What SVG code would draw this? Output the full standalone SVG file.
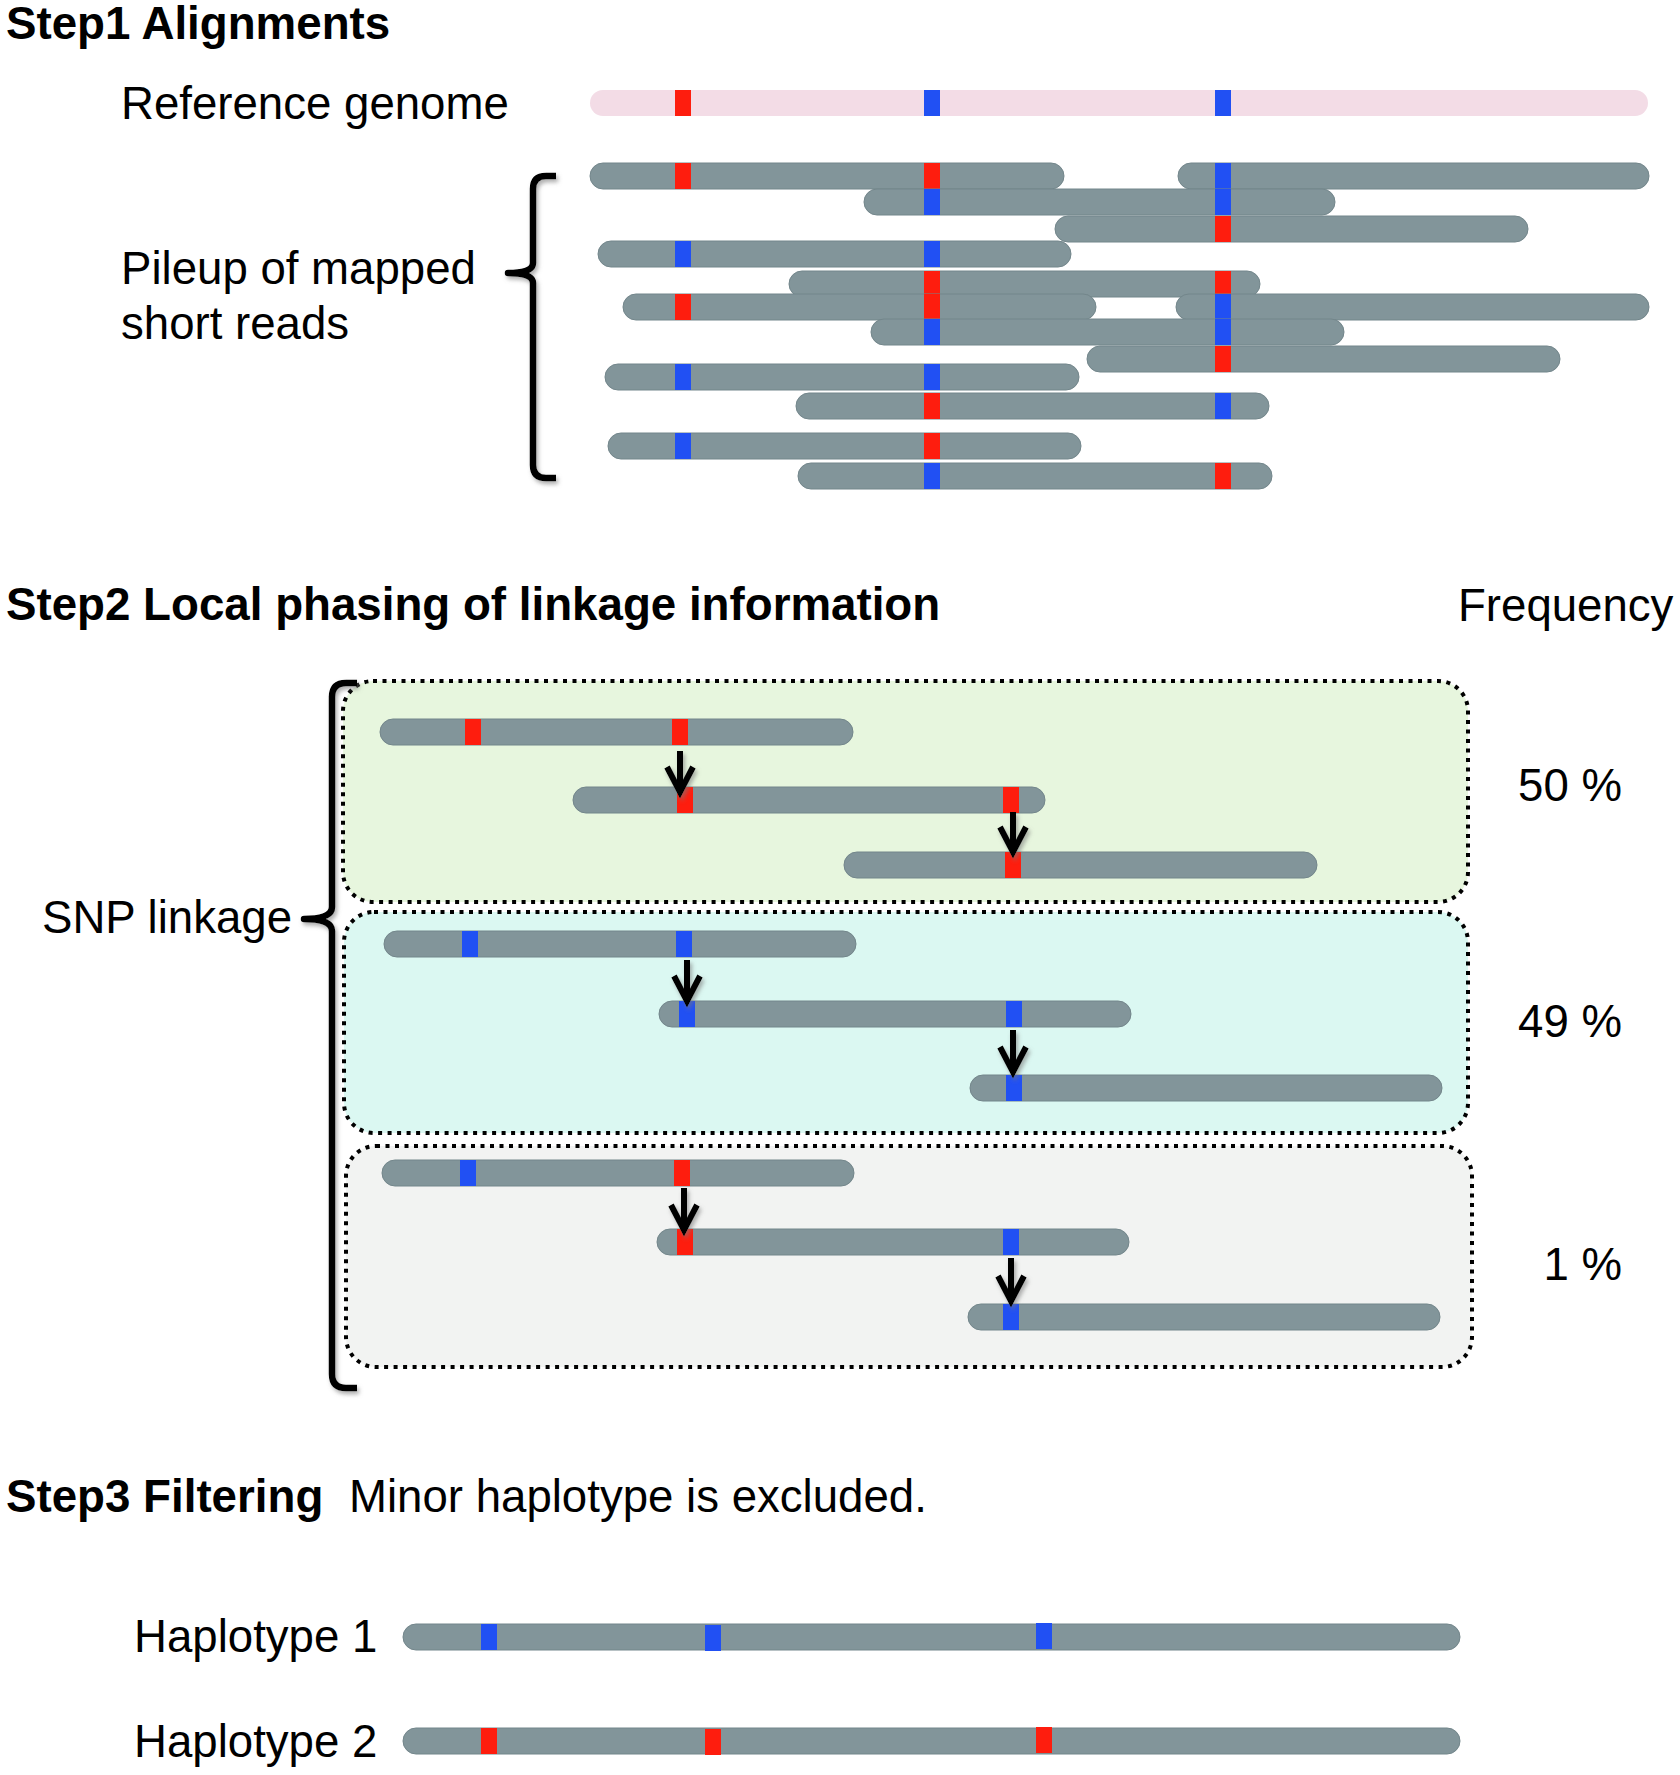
<svg xmlns="http://www.w3.org/2000/svg" width="1680" height="1775" viewBox="0 0 1680 1775">
<style>
  .t { font-family: "Liberation Sans", Arial, sans-serif; font-size: 45.6px; fill: #000; }
  .b { font-family: "Liberation Sans", Arial, sans-serif; font-size: 45.7px; font-weight: bold; fill: #000; }
  .read { fill: #82959a; stroke: #73868b; stroke-width: 1; }
  .ref { fill: #f3dce6; }
  .r { fill: #fe1d0e; }
  .bl { fill: #2150f3; }
  .box { stroke: #000; stroke-width: 4; stroke-dasharray: 4 5.5; }
  .brace { fill: none; stroke: #000; stroke-width: 6.5; stroke-linecap: butt; stroke-linejoin: round; }
  .arrow { fill: none; stroke: #000; stroke-width: 6; }
</style>
<defs>
  <filter id="sh" x="-50%" y="-10%" width="200%" height="120%">
    <feDropShadow dx="2" dy="3" stdDeviation="2" flood-color="#777" flood-opacity="0.6"/>
  </filter>
  <marker id="ah" markerUnits="userSpaceOnUse" viewBox="-32 -20 40 40" markerWidth="40" markerHeight="40" refX="0" refY="0" orient="auto" overflow="visible">
    <path d="M-25,-13 L0,0 L-25,13" fill="none" stroke="#000" stroke-width="6" stroke-linejoin="miter"/>
  </marker>
</defs>
<rect width="1680" height="1775" fill="#fff"/>

<!-- Step 1 -->
<text class="b" x="6" y="39">Step1 Alignments</text>
<text class="t" x="121" y="119">Reference genome</text>
<text class="t" x="121" y="284">Pileup of mapped</text>
<text class="t" x="121" y="339">short reads</text>

<g id="reference">
  <rect class="ref" x="590" y="90" width="1058" height="26" rx="13"/>
  <rect class="r" x="675" y="90" width="16" height="26"/>
  <rect class="bl" x="924" y="90" width="16" height="26"/>
  <rect class="bl" x="1215" y="90" width="16" height="26"/>
</g>

<g id="pileup">
  <g id="s1r1"><rect class="read" x="590" y="163" width="474" height="26" rx="13"/><rect class="r" x="675" y="163" width="16" height="26"/><rect class="r" x="924" y="163" width="16" height="26"/></g>
  <g id="s1r2"><rect class="read" x="1178" y="163" width="471" height="26" rx="13"/><rect class="bl" x="1215" y="163" width="16" height="26"/></g>
  <g id="s1r3"><rect class="read" x="864" y="189" width="471" height="26" rx="13"/><rect class="bl" x="924" y="189" width="16" height="26"/><rect class="bl" x="1215" y="189" width="16" height="26"/></g>
  <g id="s1r4"><rect class="read" x="1055" y="216" width="473" height="26" rx="13"/><rect class="r" x="1215" y="216" width="16" height="26"/></g>
  <g id="s1r5"><rect class="read" x="598" y="241" width="473" height="26" rx="13"/><rect class="bl" x="675" y="241" width="16" height="26"/><rect class="bl" x="924" y="241" width="16" height="26"/></g>
  <g id="s1r6"><rect class="read" x="789" y="271" width="471" height="26" rx="13"/><rect class="r" x="924" y="271" width="16" height="26"/><rect class="r" x="1215" y="271" width="16" height="26"/></g>
  <g id="s1r7"><rect class="read" x="623" y="294" width="473" height="26" rx="13"/><rect class="r" x="675" y="294" width="16" height="26"/><rect class="r" x="924" y="294" width="16" height="26"/></g>
  <g id="s1r8"><rect class="read" x="1176" y="294" width="473" height="26" rx="13"/><rect class="bl" x="1215" y="294" width="16" height="26"/></g>
  <g id="s1r9"><rect class="read" x="871" y="319" width="473" height="26" rx="13"/><rect class="bl" x="924" y="319" width="16" height="26"/><rect class="bl" x="1215" y="319" width="16" height="26"/></g>
  <g id="s1r10"><rect class="read" x="1087" y="346" width="473" height="26" rx="13"/><rect class="r" x="1215" y="346" width="16" height="26"/></g>
  <g id="s1r11"><rect class="read" x="605" y="364" width="474" height="26" rx="13"/><rect class="bl" x="675" y="364" width="16" height="26"/><rect class="bl" x="924" y="364" width="16" height="26"/></g>
  <g id="s1r12"><rect class="read" x="796" y="393" width="473" height="26" rx="13"/><rect class="r" x="924" y="393" width="16" height="26"/><rect class="bl" x="1215" y="393" width="16" height="26"/></g>
  <g id="s1r13"><rect class="read" x="608" y="433" width="473" height="26" rx="13"/><rect class="bl" x="675" y="433" width="16" height="26"/><rect class="r" x="924" y="433" width="16" height="26"/></g>
  <g id="s1r14"><rect class="read" x="798" y="463" width="474" height="26" rx="13"/><rect class="bl" x="924" y="463" width="16" height="26"/><rect class="r" x="1215" y="463" width="16" height="26"/></g>
</g>

<g id="brace1" filter="url(#sh)">
  <path class="brace" d="M556,176 L546,176 Q533,176 533,189 L533,263 Q533,273 508,273 Q533,273 533,283 L533,465 Q533,478 546,478 L556,478"/>
</g>

<!-- Step 2 -->
<text class="b" x="6" y="620">Step2 Local phasing of linkage information</text>
<text class="t" x="1458" y="621">Frequency</text>

<g id="box1">
  <rect class="box" x="343" y="681" width="1125" height="221" rx="30" fill="#e7f6de"/>
</g>
<g id="box2">
  <rect class="box" x="344" y="912" width="1124" height="221" rx="30" fill="#dbf8f2"/>
</g>
<g id="box3">
  <rect class="box" x="346" y="1146" width="1126" height="221" rx="30" fill="#f2f3f2"/>
</g>

<g id="s2ra"><rect class="read" x="380" y="719" width="473" height="26" rx="13"/><rect class="r" x="465" y="719" width="16" height="26"/><rect class="r" x="672" y="719" width="16" height="26"/></g>
<g id="s2rb"><rect class="read" x="573" y="787" width="472" height="26" rx="13"/><rect class="r" x="677" y="787" width="16" height="26"/><rect class="r" x="1003" y="787" width="16" height="26"/></g>
<g id="s2rc"><rect class="read" x="844" y="852" width="473" height="26" rx="13"/><rect class="r" x="1005" y="852" width="16" height="26"/></g>

<g id="s2rd"><rect class="read" x="384" y="931" width="472" height="26" rx="13"/><rect class="bl" x="462" y="931" width="16" height="26"/><rect class="bl" x="676" y="931" width="16" height="26"/></g>
<g id="s2re"><rect class="read" x="659" y="1001" width="472" height="26" rx="13"/><rect class="bl" x="679" y="1001" width="16" height="26"/><rect class="bl" x="1006" y="1001" width="16" height="26"/></g>
<g id="s2rf"><rect class="read" x="970" y="1075" width="472" height="26" rx="13"/><rect class="bl" x="1006" y="1075" width="16" height="26"/></g>

<g id="s2rg"><rect class="read" x="382" y="1160" width="472" height="26" rx="13"/><rect class="bl" x="460" y="1160" width="16" height="26"/><rect class="r" x="674" y="1160" width="16" height="26"/></g>
<g id="s2rh"><rect class="read" x="657" y="1229" width="472" height="26" rx="13"/><rect class="r" x="677" y="1229" width="16" height="26"/><rect class="bl" x="1003" y="1229" width="16" height="26"/></g>
<g id="s2ri"><rect class="read" x="968" y="1304" width="472" height="26" rx="13"/><rect class="bl" x="1003" y="1304" width="16" height="26"/></g>

<g id="connectors" filter="url(#sh)">
  <line class="arrow" x1="680" y1="751" x2="680" y2="792" marker-end="url(#ah)"/>
  <line class="arrow" x1="1013" y1="812" x2="1013" y2="852" marker-end="url(#ah)"/>
  <line class="arrow" x1="687" y1="960" x2="687" y2="1001" marker-end="url(#ah)"/>
  <line class="arrow" x1="1013" y1="1030" x2="1013" y2="1072" marker-end="url(#ah)"/>
  <line class="arrow" x1="684" y1="1188" x2="684" y2="1230" marker-end="url(#ah)"/>
  <line class="arrow" x1="1011" y1="1258" x2="1011" y2="1301" marker-end="url(#ah)"/>
</g>

<g id="brace2" filter="url(#sh)">
  <path class="brace" d="M357,683 L346,683 Q332,683 332,697 L332,907 Q332,919 304,919 Q332,919 332,931 L332,1374 Q332,1388 346,1388 L357,1388"/>
</g>

<text class="t" x="42" y="933">SNP linkage</text>
<text class="t" x="1622" y="801" text-anchor="end">50 %</text>
<text class="t" x="1622" y="1037" text-anchor="end">49 %</text>
<text class="t" x="1622" y="1280" text-anchor="end">1 %</text>

<!-- Step 3 -->
<text class="b" x="6" y="1512">Step3 Filtering</text>
<text class="t" x="349" y="1512">Minor haplotype is excluded.</text>
<text class="t" x="134" y="1652">Haplotype 1</text>
<text class="t" x="134" y="1757">Haplotype 2</text>

<g id="haplotype1"><rect class="read" x="403" y="1624" width="1057" height="26" rx="13"/><rect class="bl" x="481" y="1624" width="16" height="26"/><rect class="bl" x="705" y="1625" width="16" height="26"/><rect class="bl" x="1036" y="1623" width="16" height="26"/></g>
<g id="haplotype2"><rect class="read" x="403" y="1728" width="1057" height="26" rx="13"/><rect class="r" x="481" y="1728" width="16" height="26"/><rect class="r" x="705" y="1729" width="16" height="26"/><rect class="r" x="1036" y="1727" width="16" height="26"/></g>
</svg>
